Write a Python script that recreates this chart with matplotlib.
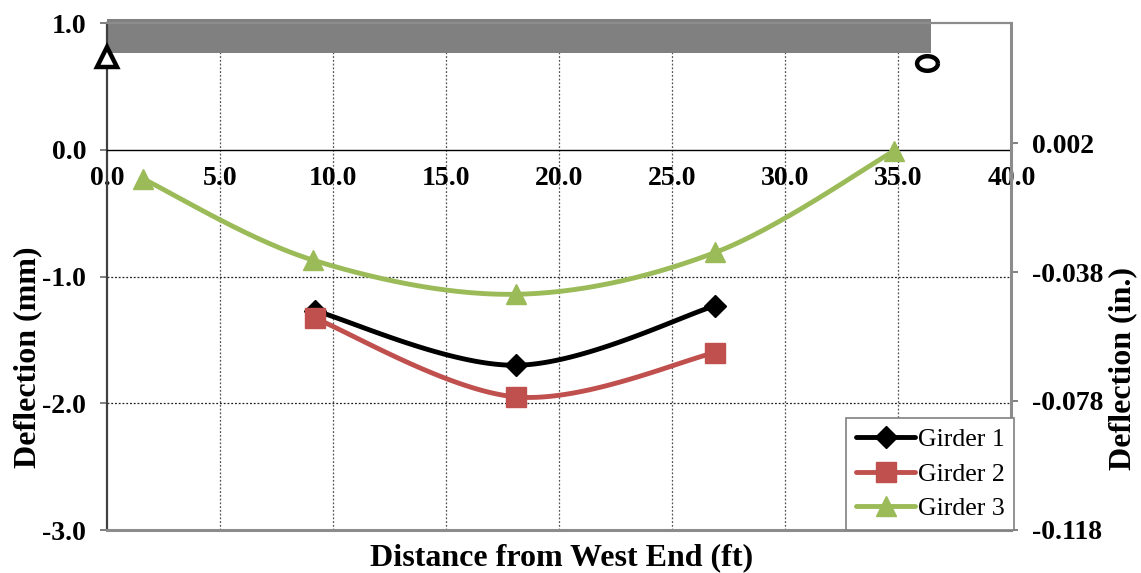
import numpy as np
import matplotlib
matplotlib.use("Agg")
import matplotlib.pyplot as plt
from matplotlib.lines import Line2D
from matplotlib.patches import Rectangle
from matplotlib.path import Path

plt.rcParams['font.family'] = ['Liberation Serif', 'DejaVu Serif']

# measured deflections along the span (mm)
g1_x = [9.2, 18.1, 26.9]
g1_y = [-1.27, -1.70, -1.23]
g2_x = [9.2, 18.1, 26.9]
g2_y = [-1.33, -1.95, -1.60]
g3_x = [1.6, 9.1, 18.1, 26.9, 34.8]
g3_y = [-0.23, -0.87, -1.14, -0.81, -0.01]

x_ticks = [0, 5, 10, 15, 20, 25, 30, 35, 40]
mm_ticks = [1.0, 0.0, -1.0, -2.0, -3.0]
in_ticks = [0.002, -0.038, -0.078, -0.118]

# bridge deck and supports sketch
deck_len = 36.45
pin_x, pin_y = 0.0, 0.735
roller_x, roller_y = 36.25, 0.685

BLACK = '#000000'
RED = '#C0504D'
GREEN = '#9BBB59'


def excel_smooth(x, y, n=50):
    # Bezier smoothing like spreadsheet "smoothed line" charts
    pts = np.column_stack([x, y]).astype(float)
    P = np.vstack([pts[0], pts, pts[-1]])
    t = np.linspace(0, 1, n)[:, None]
    segs = []
    for i in range(1, len(P) - 2):
        p0, p1, p2, p3 = P[i - 1], P[i], P[i + 1], P[i + 2]
        c1 = p1 + (p2 - p0) / 6
        c2 = p2 - (p3 - p1) / 6
        segs.append((1 - t) ** 3 * p1 + 3 * (1 - t) ** 2 * t * c1
                    + 3 * (1 - t) * t ** 2 * c2 + t ** 3 * p2)
    s = np.vstack(segs)
    return s[:, 0], s[:, 1]


fig = plt.figure(figsize=(11.41, 5.73), dpi=100)
ax = fig.add_axes([0.0938, 0.075, 0.7927, 0.8848])
ax.set_xlim(0, 40)
ax.set_ylim(-3, 1)

# grid
for xv in x_ticks[1:-1]:
    ax.axvline(xv, color='#555555', lw=0.9, ls=(0, (1.5, 1.5)), zorder=1)
for yv in [-1.0, -2.0]:
    ax.axhline(yv, color='#222222', lw=0.9, ls=(0, (1.5, 1.5)), zorder=1)

# deck
ax.add_patch(Rectangle((0, 0.765), deck_len, 0.265, facecolor='#808080',
                       edgecolor='none', clip_on=False, zorder=2))

series = [(g1_x, g1_y, BLACK, 'D', 11, 'Girder 1'),
          (g2_x, g2_y, RED, 's', 14, 'Girder 2'),
          (g3_x, g3_y, GREEN, '^', 15, 'Girder 3')]
handles = []
for xs, ys, col, mk, ms, lab in series:
    sx, sy = excel_smooth(xs, ys)
    ax.plot(sx, sy, color=col, lw=3.5, solid_capstyle='round', zorder=4)
    ax.plot(xs, ys, ls='none', marker=mk, ms=ms, color=col, mec=col, zorder=5)
    handles.append(Line2D([], [], color=col, lw=3.5, marker=mk, ms=ms,
                          mec=col, solid_capstyle='round', label=lab))

# supports
ax.plot(pin_x, pin_y, marker='^', ms=15, mfc='white', mec='black', mew=3.2,
        clip_on=False, zorder=6)
th = np.linspace(0, 2 * np.pi, 60)
ellipse = Path(np.column_stack([np.cos(th), 0.7 * np.sin(th)]))
ax.plot(roller_x, roller_y, marker=ellipse, ms=15, mfc='white', mec='black',
        mew=3.2, clip_on=False, zorder=6)

# spines: x axis crosses at zero, grey frame around
ax.spines['bottom'].set_position(('data', 0))
ax.spines['bottom'].set_color('black')
ax.spines['bottom'].set_linewidth(1.0)
ax.spines['left'].set_color('#404040')
ax.spines['left'].set_linewidth(1.6)
ax.spines['top'].set_color('#8c8c8c')
ax.spines['top'].set_linewidth(1.6)
ax.spines['right'].set_visible(False)
ax.axhline(-3, color='#8c8c8c', lw=2.2, clip_on=False, zorder=3)

ax.set_xticks(x_ticks)
ax.set_xticklabels([f'{v:.1f}' for v in x_ticks])
ax.tick_params(axis='x', length=0, pad=12, labelsize=20)
ax.set_yticks(mm_ticks)
ax.set_yticklabels([f'{v:.1f}' for v in mm_ticks])
ax.tick_params(axis='y', length=5, width=1.4, color='#808080', pad=10,
               labelsize=20)
for lbl in ax.get_xticklabels() + ax.get_yticklabels():
    lbl.set_fontweight('bold')

ax.set_ylabel('Deflection (mm)', fontsize=23, fontweight='bold')
ax.yaxis.set_label_coords(-0.072, 0.341)
ax.set_xlabel('Distance from West End (ft)', fontsize=23, fontweight='bold')
ax.xaxis.set_label_coords(0.503, -0.027)

# inch axis on the right
ax2 = ax.twinx()
ax2.set_ylim(-3 / 25.4, 1 / 25.4)
for s in ['left', 'top', 'bottom']:
    ax2.spines[s].set_visible(False)
ax2.spines['right'].set_color('#8c8c8c')
ax2.spines['right'].set_linewidth(2.2)
ax2.set_yticks(in_ticks)
ax2.set_yticklabels([f'{v:.3f}' for v in in_ticks])
ax2.tick_params(axis='y', length=5, width=1.4, color='#808080', pad=10,
                labelsize=20)
for lbl in ax2.get_yticklabels():
    lbl.set_fontweight('bold')
ax2.set_ylabel('Deflection (in.)', fontsize=23, fontweight='bold',
               rotation=90)
ax2.yaxis.set_label_coords(1.107, 0.318)

leg = ax2.legend(handles=handles, loc='lower right',
                 bbox_to_anchor=(1.003, 0.0), fontsize=18.5, frameon=True,
                 fancybox=False, edgecolor='#808080', framealpha=1,
                 borderaxespad=0, handlelength=2.3, handletextpad=0.1,
                 labelspacing=0.45, borderpad=0.38)
leg.get_frame().set_linewidth(1.2)
leg.set_zorder(10)

fig.savefig('out.png', dpi=100)
